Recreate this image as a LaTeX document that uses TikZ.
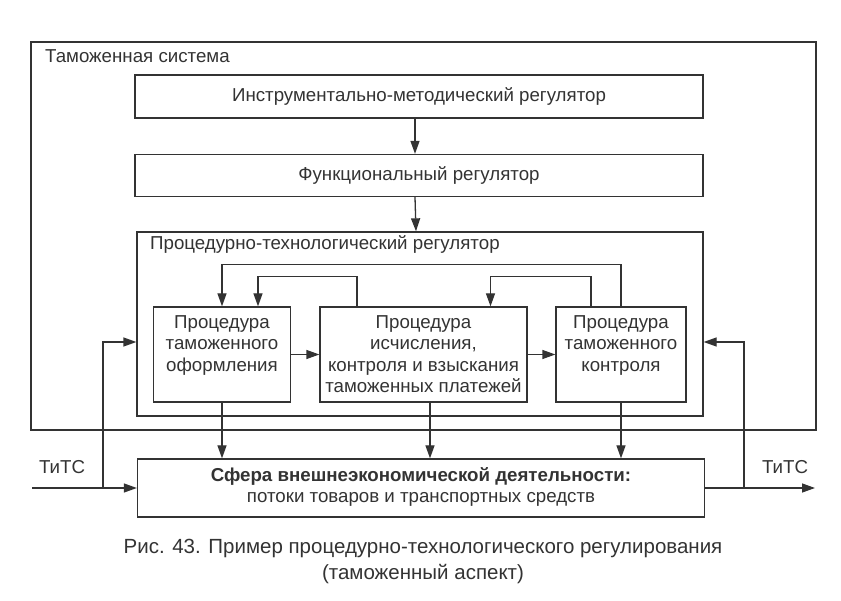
\documentclass[tikz,border=0pt]{standalone}
\usepackage{fontspec}
\setmainfont{Liberation Sans}
\newfontfamily\capfont{Liberation Sans}
\usetikzlibrary{arrows.meta}
\definecolor{ink}{HTML}{333333}
\tikzset{
  box/.style={draw=ink, line width=1.3pt, rectangle, inner sep=0pt},
  txt/.style={text=ink, font=\fontsize{18.7}{21.5}\selectfont, align=center, inner sep=0pt},
  arr/.style={draw=ink, line width=1.3pt, -{Triangle[length=13pt,width=9pt]}},
}
\begin{document}
\begin{tikzpicture}[x=1pt,y=-1pt]
\useasboundingbox[fill=white] (0,0) rectangle (841,601);
% outer frame
\node[box, minimum width=785, minimum height=388] (sys) at (423.5,236) {};
\node[txt, anchor=west] (syslbl) at (45,56) {Таможенная система};
% regulators
\node[box, minimum width=568, minimum height=43] (b1) at (419,96.5) {};
\node[txt] (b1t) at (b1.center) {Инструментально-методический регулятор};
\node[box, minimum width=568, minimum height=42] (b2) at (419,175.5) {};
\node[txt] (b2t) at (b2.center) {Функциональный регулятор};
\node[box, minimum width=566, minimum height=184] (b3) at (420,324) {};
\node[txt, anchor=west] (b3t) at (150,245) {Процедурно-технологический регулятор};
% procedures
\node[box, minimum width=137, minimum height=95] (A) at (222,354.5) {};
\node[txt, anchor=north] (At) at ([yshift=-9pt]A.north) {Процедура\\таможенного\\оформления};
\node[box, minimum width=207, minimum height=95] (B) at (423.5,354.5) {};
\node[txt, anchor=north] (Bt) at ([yshift=-9pt]B.north) {Процедура\\исчисления,\\контроля и взыскания\\таможенных платежей};
\node[box, minimum width=130, minimum height=95] (C) at (621,354.5) {};
\node[txt, anchor=north] (Ct) at ([yshift=-9pt]C.north) {Процедура\\таможенного\\контроля};
% sphere
\node[box, minimum width=567, minimum height=58] (S) at (421,488) {};
\node[txt, anchor=north] (St) at ([yshift=-9pt]S.north) {\textbf{Сфера внешнеэкономической деятельности:}\\потоки товаров и транспортных средств};
% vertical arrows
\draw[arr] ([xshift=-4pt]b1.south) -- ([xshift=-4pt]b2.north);
\draw[arr] ([xshift=-4pt]b2.south) -- ([xshift=-4pt]b3.north);
% horizontal between procedures
\draw[arr] (A.east) -- (B.west);
\draw[arr] (B.east) -- (C.west);
% feedback loops
\draw[arr] (C.north) -- ++(0,-42) -| (A.north);
\draw[arr] ([xshift=-66.5pt]B.north) -- ++(0,-30) -| ([xshift=36pt]A.north);
\draw[arr] ([xshift=-30pt]C.north) -- ++(0,-30) -| ([xshift=67pt]B.north);
% down to sphere
\draw[arr] (A.south) -- (A.south |- S.north);
\draw[arr] ([xshift=6.5pt]B.south) -- ([xshift=6.5pt]B.south |- S.north);
\draw[arr] (C.south) -- (C.south |- S.north);
% input / output
\coordinate (inL) at (32,488);
\coordinate (brL) at (103,488);
\coordinate (outR) at (815,488);
\coordinate (brR) at (744,488);
\draw[arr] (inL) -- (S.west);
\draw[arr] (brL) |- ([yshift=-18pt]b3.west);
\draw[arr] (S.east) -- (outR);
\draw[arr] (brR) |- ([yshift=-18pt]b3.east);
\node[txt] (tl) at (62,467) {ТиТС};
\node[txt] (tr) at (785,467) {ТиТС};
% caption
\node[text=ink, font=\capfont\fontsize{20.5}{26}\selectfont, align=center, inner sep=0pt] (cap) at (423,561) {Рис. 43. Пример процедурно-технологического регулирования\\(таможенный аспект)};
\end{tikzpicture}
\end{document}
